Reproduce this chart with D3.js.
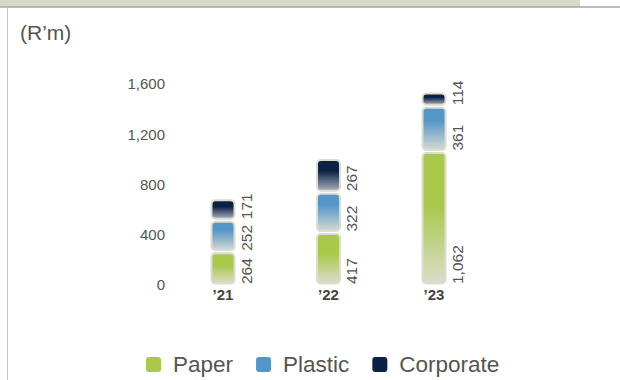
<!DOCTYPE html>
<html>
<head>
<meta charset="utf-8">
<script src="https://cdn.jsdelivr.net/npm/d3@7/dist/d3.min.js"></script>
<style>
  html, body { margin: 0; padding: 0; background: #fff; }
  svg { display: block; font-family: "Liberation Sans", Arial, Helvetica, sans-serif; }
</style>
</head>
<body>
<svg id="chart" width="620" height="380"></svg>
<script>
// Revenue by segment, R'm
const years = ["’21", "’22", "’23"];
const paper = [264, 417, 1062];
const plastic = [252, 322, 361];
const corporate = [171, 267, 114];
const seriesNames = ["Paper", "Plastic", "Corporate"];
const seriesColors = ["#a9c94b", "#5596c8", "#0b2247"];
const yTicks = [0, 400, 800, 1200, 1600];
const unitLabel = "(R’m)";

const svg = d3.select("#chart");

// frame: beige band, rule under it, left rule
svg.append("rect").attr("x", 0).attr("y", 0).attr("width", 580).attr("height", 6.5).attr("fill", "#d8d8c8");
svg.append("line").attr("x1", 0).attr("x2", 620).attr("y1", 7).attr("y2", 7)
  .attr("stroke", "#a4a4a4").attr("stroke-width", 1.5);
svg.append("line").attr("x1", 7.5).attr("x2", 7.5).attr("y1", 7).attr("y2", 380)
  .attr("stroke", "#c4c4c4").attr("stroke-width", 1);

svg.append("text").attr("x", 20).attr("y", 40).attr("font-size", 21).attr("fill", "#555")
  .text(unitLabel);

const y = d3.scaleLinear().domain([0, 1600]).range([285, 84]);
const x = d3.scalePoint().domain(years).range([223, 434]);

// y axis: labels only
const yAxis = svg.append("g").attr("transform", "translate(165,0)")
  .call(d3.axisLeft(y).tickValues(yTicks).tickSize(0).tickPadding(0).tickFormat(d3.format(",")));
yAxis.select(".domain").remove();
yAxis.selectAll("text").attr("font-size", 15).attr("fill", "#555")
  .attr("font-family", "Liberation Sans, Arial, sans-serif");

// gradients: each segment fades from its colour to pale beige at the bottom
const defs = svg.append("defs");
const fadeTo = ["#dcdccb", "#d6d9d3", "#a9b0bd"];
const holdAt = ["40%", "30%", "35%"];
seriesColors.forEach((c, i) => {
  const g = defs.append("linearGradient").attr("id", "grad" + i)
    .attr("x1", 0).attr("y1", 0).attr("x2", 0).attr("y2", 1);
  g.append("stop").attr("offset", "0%").attr("stop-color", c);
  g.append("stop").attr("offset", holdAt[i]).attr("stop-color", c);
  g.append("stop").attr("offset", "100%").attr("stop-color", fadeTo[i]);
});

const rows = years.map((yr, i) => ({ year: yr, values: [paper[i], plastic[i], corporate[i]] }));
const stack = d3.stack().keys([0, 1, 2]).value((d, k) => d.values[k]);
const stacked = stack(rows);

const barW = 23;
const barsG = svg.append("g");
stacked.forEach((layer, k) => {
  barsG.selectAll(null).data(layer).enter().append("rect")
    .attr("x", d => x(d.data.year) - barW / 2)
    .attr("y", d => y(d[1]) + 1.5)
    .attr("width", barW)
    .attr("height", d => y(d[0]) - y(d[1]) - 3)
    .attr("rx", 4).attr("ry", 4)
    .attr("fill", "url(#grad" + k + ")")
    .attr("stroke", "#dcdccf").attr("stroke-width", 2);

  // value labels, rotated, starting at the segment bottom
  barsG.selectAll(null).data(layer).enter().append("text")
    .attr("transform", d => `translate(${x(d.data.year) + barW / 2 + 17},${y(d[0]) - 1}) rotate(-90)`)
    .attr("font-size", 15.5).attr("fill", "#555")
    .text(d => d3.format(",")(d.data.values[k]));
});

// year labels
svg.append("g").selectAll("text").data(years).enter().append("text")
  .attr("x", d => x(d)).attr("y", 300).attr("text-anchor", "middle")
  .attr("font-size", 15).attr("font-weight", "bold").attr("fill", "#444")
  .text(d => d);

// legend
const legend = svg.append("g").attr("transform", "translate(146,0)");
let lx = 0;
seriesNames.forEach((name, i) => {
  legend.append("rect").attr("x", lx).attr("y", 357).attr("width", 15).attr("height", 15)
    .attr("rx", 3).attr("fill", seriesColors[i]);
  const t = legend.append("text").attr("x", lx + 27).attr("y", 372)
    .attr("font-size", 22.5).attr("fill", "#555").text(name);
  lx += 27 + t.node().getComputedTextLength() + 23;
});
</script>
</body>
</html>
